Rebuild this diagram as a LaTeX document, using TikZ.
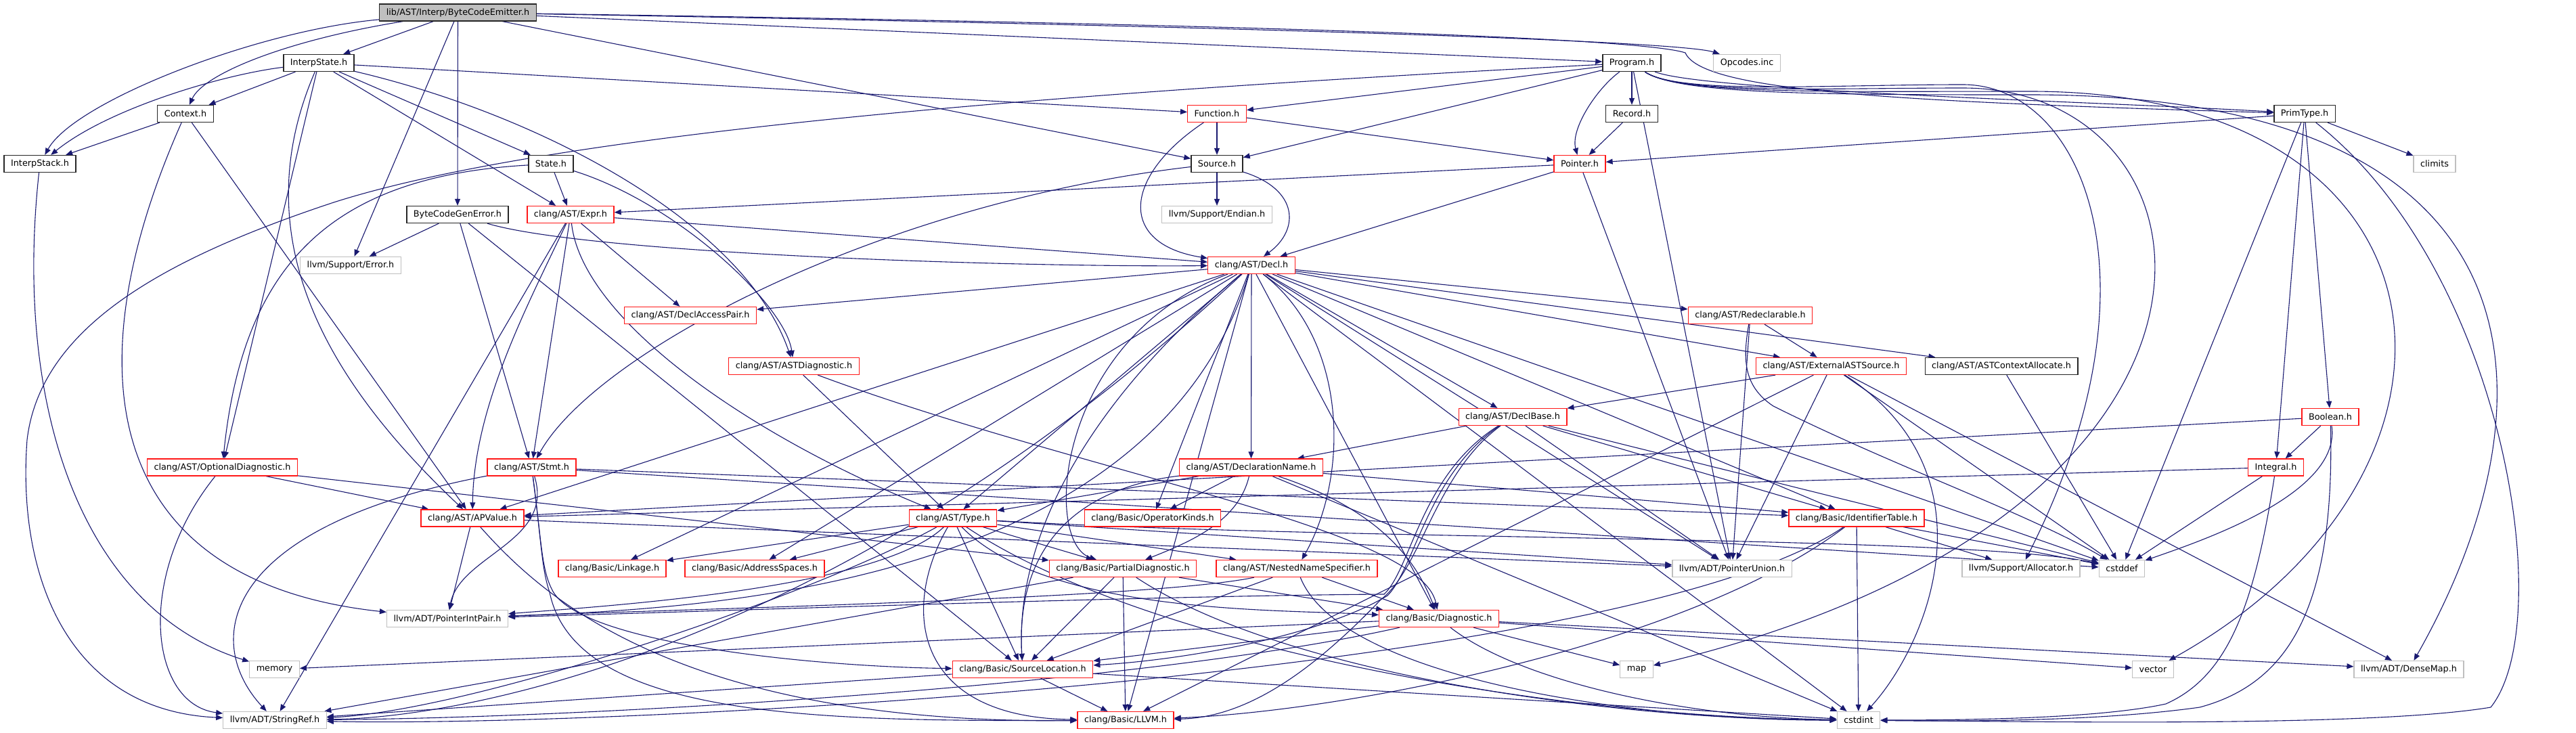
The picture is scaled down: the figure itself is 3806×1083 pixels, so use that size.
\documentclass[tikz,border=0pt]{standalone}
\usepackage{fontspec}
\setmainfont{DejaVu Sans}
\usetikzlibrary{arrows.meta,backgrounds}
\definecolor{edgeblue}{RGB}{25,25,112}
\definecolor{boxgray}{RGB}{191,191,191}
\definecolor{boxred}{RGB}{255,24,24}

\begin{document}
\begin{tikzpicture}[x=1pt,y=-1pt,>={Triangle[length=10pt,width=8pt]},
  hdr/.style={draw,line width=1.3pt,fill=white,minimum height=25pt,
    inner xsep=10pt,inner ysep=0pt,font=\fontsize{12.8}{15}\selectfont},
  root/.style={hdr,draw=black!85,fill=boxgray},
  doc/.style={hdr,draw=black!85},
  cut/.style={hdr,draw=boxred},
  ext/.style={hdr,draw=boxgray},
  dep/.style={->,draw=edgeblue,line width=1.1pt}]
 \useasboundingbox (0,0) rectangle (3806,1083);
 \node[root] (bce) at (676.5,18.5) {lib/AST/Interp/ByteCodeEmitter.h};
 \node[doc] (interpstate) at (471,93) {InterpState.h};
 \node[doc] (program) at (2411,93) {Program.h};
 \node[ext] (opcodes) at (2581,93) {Opcodes.inc};
 \node[doc] (context) at (274,168) {Context.h};
 \node[cut] (function) at (1798,168) {Function.h};
 \node[doc] (record) at (2411,168) {Record.h};
 \node[doc] (primtype) at (3405,168) {PrimType.h};
 \node[doc] (interpstack) at (59,242) {InterpStack.h};
 \node[doc] (state) at (814,242) {State.h};
 \node[doc] (source) at (1798,242) {Source.h};
 \node[cut] (pointer) at (2334,242) {Pointer.h};
 \node[ext] (climits) at (3597,242) {climits};
 \node[doc] (bcgenerror) at (676,317) {ByteCodeGenError.h};
 \node[cut] (expr) at (843,317) {clang/AST/Expr.h};
 \node[ext] (endian) at (1798,317) {llvm/Support/Endian.h};
 \node[ext] (error) at (518,392) {llvm/Support/Error.h};
 \node[cut] (decl) at (1849,392) {clang/AST/Decl.h};
 \node[cut] (declaccesspair) at (1020,466) {clang/AST/DeclAccessPair.h};
 \node[cut] (redeclarable) at (2586,466) {clang/AST/Redeclarable.h};
 \node[cut] (astdiagnostic) at (1173,541) {clang/AST/ASTDiagnostic.h};
 \node[cut] (externalastsource) at (2705.5,541) {clang/AST/ExternalASTSource.h};
 \node[doc] (astcontextallocate) at (2957,541) {clang/AST/ASTContextAllocate.h};
 \node[cut] (declbase) at (2235,616) {clang/AST/DeclBase.h};
 \node[cut] (boolean) at (3443,616) {Boolean.h};
 \node[cut] (optionaldiagnostic) at (328.5,690.5) {clang/AST/OptionalDiagnostic.h};
 \node[cut] (stmt) at (785.5,690.5) {clang/AST/Stmt.h};
 \node[cut] (declarationname) at (1848.5,690.5) {clang/AST/DeclarationName.h};
 \node[cut] (integral) at (3362.5,690.5) {Integral.h};
 \node[cut] (apvalue) at (698,765.5) {clang/AST/APValue.h};
 \node[cut] (type) at (1408,765.5) {clang/AST/Type.h};
 \node[cut] (operatorkinds) at (1703,765.5) {clang/Basic/OperatorKinds.h};
 \node[cut] (identifiertable) at (2743,765.5) {clang/Basic/IdentifierTable.h};
 \node[cut] (linkage) at (904.5,840) {clang/Basic/Linkage.h};
 \node[cut] (addressspaces) at (1115,840) {clang/Basic/AddressSpaces.h};
 \node[cut] (partialdiagnostic) at (1659,840) {clang/Basic/PartialDiagnostic.h};
 \node[cut] (nestednamespecifier) at (1916,840) {clang/AST/NestedNameSpecifier.h};
 \node[ext] (pointerunion) at (2559,840) {llvm/ADT/PointerUnion.h};
 \node[ext] (allocator) at (2986,840) {llvm/Support/Allocator.h};
 \node[ext] (cstddef) at (3135,840) {cstddef};
 \node[ext] (pointerintpair) at (661,914) {llvm/ADT/PointerIntPair.h};
 \node[cut] (diagnostic) at (2126,914) {clang/Basic/Diagnostic.h};
 \node[ext] (memory) at (405.5,989) {memory};
 \node[cut] (sourcelocation) at (1511,989) {clang/Basic/SourceLocation.h};
 \node[ext] (map) at (2418,989) {map};
 \node[ext] (vector) at (3181,989) {vector};
 \node[ext] (densemap) at (3559,989) {llvm/ADT/DenseMap.h};
 \node[ext] (stringref) at (406,1064) {llvm/ADT/StringRef.h};
 \node[cut] (llvm) at (1663,1064) {clang/Basic/LLVM.h};
 \node[ext] (cstdint) at (2746,1064) {cstdint};
 \begin{scope}[on background layer]
 \foreach \dst in {interpstate,program,source,bcgenerror,error}
   {\draw[dep] (bce) -- (\dst);}
 \draw[dep] (bce) .. controls (380,45) and (110,150) .. (interpstack);
 \draw[dep] (bce) .. controls (420,60) and (300,110) .. (context);
 \draw[dep] (bce) .. controls (1800,38) and (2480,60) .. (opcodes);
 \draw[dep] (bce) .. controls (1800,35) and (2420,55) .. (2490,78)
   .. controls (2515,135) and (2800,150) .. (primtype);
 \foreach \dst in {context,state,function,expr,optionaldiagnostic}
   {\draw[dep] (interpstate) -- (\dst);}
 \draw[dep] (interpstate) .. controls (330,110) and (160,160) .. (interpstack);
 \draw[dep] (interpstate) .. controls (360,350) and (480,560) .. (apvalue);
 \draw[dep] (interpstate) .. controls (800,170) and (1100,330) .. (astdiagnostic);
 \draw[dep] (context) -- (interpstack);
 \draw[dep] (context) -- (apvalue);
 \draw[dep] (context) .. controls (100,560) and (160,860) .. (pointerintpair);
 \draw[dep] (interpstack) .. controls (20,600) and (120,900) .. (memory);
 \foreach \dst in {function,source,record,pointerunion}
   {\draw[dep] (program) -- (\dst);}
 \draw[dep] (program) .. controls (2360,130) and (2320,190) .. (pointer);
 \draw[dep] (program) .. controls (2520,135) and (3100,150) .. (primtype);
 \draw[dep] (program) .. controls (1500,140) and (800,200) .. (490,300)
   .. controls (250,380) and (60,480) .. (40,650)
   .. controls (25,850) and (100,1050) .. (stringref);
 \draw[dep] (program) .. controls (2480,140) and (2700,125) .. (2900,125)
   .. controls (3080,125) and (3200,420) .. (allocator);
 \draw[dep] (program) .. controls (2480,140) and (2700,130) .. (2900,130)
   .. controls (3300,130) and (3380,760) .. (map);
 \draw[dep] (program) .. controls (2480,140) and (2700,135) .. (3000,135)
   .. controls (3650,135) and (3700,700) .. (vector);
 \draw[dep] (program) .. controls (2480,140) and (2700,140) .. (3000,140)
   .. controls (3780,140) and (3780,600) .. (densemap);
 \draw[dep] (record) -- (pointer);
 \draw[dep] (function) -- (source);
 \draw[dep] (function) -- (pointer);
 \draw[dep] (function) .. controls (1660,260) and (1650,360) .. (decl);
 \draw[dep] (source) -- (endian);
 \draw[dep] (source) .. controls (1920,280) and (1920,340) .. (decl);
 \draw[dep] (source) .. controls (1300,300) and (880,520) .. (stmt);
 \foreach \dst in {expr,decl,pointerunion}
   {\draw[dep] (pointer) -- (\dst);}
 \foreach \dst in {pointer,climits,boolean,integral,cstddef}
   {\draw[dep] (primtype) -- (\dst);}
 \draw[dep] (primtype) .. controls (3700,400) and (3780,920) .. (3680,1045)
   .. controls (3500,1075) and (3000,1066) .. (cstdint);
 \draw[dep] (boolean) -- (integral);
 \draw[dep] (boolean) -- (apvalue);
 \draw[dep] (boolean) .. controls (3460,730) and (3250,800) .. (cstddef);
 \draw[dep] (boolean) .. controls (3450,900) and (3380,1010) .. (3250,1045)
   .. controls (3100,1066) and (2900,1066) .. (cstdint);
 \draw[dep] (integral) -- (apvalue);
 \draw[dep] (integral) -- (cstddef);
 \draw[dep] (integral) .. controls (3330,900) and (3290,1000) .. (3200,1040)
   .. controls (3100,1062) and (2900,1064) .. (cstdint);
 \draw[dep] (state) -- (expr);
 \draw[dep] (state) .. controls (1000,300) and (1160,450) .. (astdiagnostic);
 \draw[dep] (state) .. controls (500,260) and (360,380) .. (optionaldiagnostic);
 \draw[dep] (bcgenerror) -- (error);
 \draw[dep] (bcgenerror) -- (stmt);
 \draw[dep] (bcgenerror) -- (sourcelocation);
 \draw[dep] (bcgenerror) .. controls (870,375) and (1500,395) .. (decl);
 \foreach \dst in {decl,declaccesspair,stmt,stringref}
   {\draw[dep] (expr) -- (\dst);}
 \draw[dep] (expr) .. controls (780,450) and (700,600) .. (apvalue);
 \draw[dep] (expr) .. controls (860,470) and (1100,640) .. (type);
 \foreach \dst in {declaccesspair,redeclarable,externalastsource,astcontextallocate,
     declbase,declarationname,apvalue,type,operatorkinds,identifiertable,linkage,
     addressspaces,pointerunion,diagnostic,llvm,cstddef,cstdint}
   {\draw[dep] (decl) -- (\dst);}
 \draw[dep] (decl) .. controls (1560,500) and (1540,800) .. (partialdiagnostic);
 \draw[dep] (decl) .. controls (1990,500) and (1995,700) .. (nestednamespecifier);
 \draw[dep] (decl) .. controls (1700,880) and (1000,900) .. (pointerintpair);
 \draw[dep] (decl) .. controls (1600,600) and (1500,800) .. (sourcelocation);
 \draw[dep] (decl) .. controls (1250,950) and (700,1060) .. (stringref);
 \draw[dep] (redeclarable) -- (externalastsource);
 \draw[dep] (redeclarable) -- (pointerunion);
 \draw[dep] (redeclarable) .. controls (2575,530) and (2575,570) .. (2620,600)
   .. controls (2800,690) and (3000,760) .. (cstddef);
 \foreach \dst in {declbase,pointerunion,cstddef,densemap,llvm}
   {\draw[dep] (externalastsource) -- (\dst);}
 \draw[dep] (externalastsource) .. controls (2950,700) and (2850,950) .. (cstdint);
 \draw[dep] (astcontextallocate) -- (cstddef);
 \draw[dep] (astdiagnostic) -- (type);
 \draw[dep] (astdiagnostic) .. controls (1600,700) and (2100,780) .. (diagnostic);
 \foreach \dst in {declarationname,identifiertable,pointerunion,cstddef}
   {\draw[dep] (declbase) -- (\dst);}
 \draw[dep] (declbase) .. controls (2110,700) and (2090,840) .. (2050,880)
   .. controls (1950,940) and (1750,975) .. (sourcelocation);
 \draw[dep] (declbase) .. controls (2120,700) and (2100,840) .. (2040,886)
   .. controls (1950,980) and (1850,1060) .. (llvm);
 \draw[dep] (declbase) .. controls (2100,700) and (2085,840) .. (2045,878)
   .. controls (1700,880) and (1000,905) .. (pointerintpair);
 \foreach \dst in {type,operatorkinds,identifiertable,cstdint}
   {\draw[dep] (declarationname) -- (\dst);}
 \draw[dep] (declarationname) .. controls (1830,770) and (1760,800) .. (partialdiagnostic);
 \draw[dep] (declarationname) .. controls (1600,720) and (1500,800) .. (sourcelocation);
 \draw[dep] (declarationname) .. controls (2060,760) and (2100,850) .. (diagnostic);
 \draw[dep] (optionaldiagnostic) -- (apvalue);
 \draw[dep] (optionaldiagnostic) -- (partialdiagnostic);
 \draw[dep] (optionaldiagnostic) .. controls (200,850) and (220,1040) .. (stringref);
 \draw[dep] (stmt) -- (identifiertable);
 \draw[dep] (stmt) -- (cstddef);
 \draw[dep] (stmt) .. controls (820,800) and (680,820) .. (pointerintpair);
 \draw[dep] (stmt) .. controls (800,800) and (800,840) .. (815,870)
   .. controls (850,950) and (1200,985) .. (sourcelocation);
 \draw[dep] (stmt) .. controls (800,800) and (800,840) .. (812,875)
   .. controls (850,1060) and (1200,1066) .. (llvm);
 \draw[dep] (stmt) .. controls (320,780) and (300,950) .. (stringref);
 \draw[dep] (apvalue) -- (pointerintpair);
 \draw[dep] (apvalue) -- (pointerunion);
 \draw[dep] (apvalue) .. controls (800,880) and (1000,1070) .. (llvm);
 \foreach \dst in {linkage,addressspaces,partialdiagnostic,nestednamespecifier,
     sourcelocation,pointerunion}
   {\draw[dep] (type) -- (\dst);}
 \draw[dep] (type) .. controls (1550,910) and (1900,900) .. (diagnostic);
 \draw[dep] (type) .. controls (1300,870) and (900,895) .. (pointerintpair);
 \draw[dep] (type) .. controls (1330,900) and (1350,1060) .. (llvm);
 \draw[dep] (type) .. controls (1200,880) and (700,1050) .. (stringref);
 \draw[dep] (type) .. controls (2000,800) and (2900,790) .. (cstddef);
 \draw[dep] (type) .. controls (1700,960) and (2300,1060) .. (cstdint);
 \foreach \dst in {allocator,cstddef,cstdint}
   {\draw[dep] (identifiertable) -- (\dst);}
 \draw[dep] (identifiertable) .. controls (2500,950) and (2000,1050) .. (llvm);
 \draw[dep] (identifiertable) .. controls (2400,1000) and (900,1075) .. (stringref);
 \foreach \dst in {diagnostic,sourcelocation,llvm,stringref}
   {\draw[dep] (partialdiagnostic) -- (\dst);}
 \draw[dep] (partialdiagnostic) .. controls (1900,1000) and (2400,1064) .. (cstdint);
 \draw[dep] (nestednamespecifier) -- (diagnostic);
 \draw[dep] (nestednamespecifier) -- (sourcelocation);
 \draw[dep] (nestednamespecifier) .. controls (1700,885) and (1000,900) .. (pointerintpair);
 \draw[dep] (nestednamespecifier) .. controls (1980,1000) and (2400,1064) .. (cstdint);
 \foreach \dst in {sourcelocation,memory,map,vector,densemap}
   {\draw[dep] (diagnostic) -- (\dst);}
 \draw[dep] (diagnostic) .. controls (1700,1010) and (900,1060) .. (stringref);
 \draw[dep] (diagnostic) .. controls (2250,1010) and (2500,1060) .. (cstdint);
 \foreach \dst in {llvm,stringref,cstdint}
   {\draw[dep] (sourcelocation) -- (\dst);}
 \end{scope}
\end{tikzpicture}
\end{document}
